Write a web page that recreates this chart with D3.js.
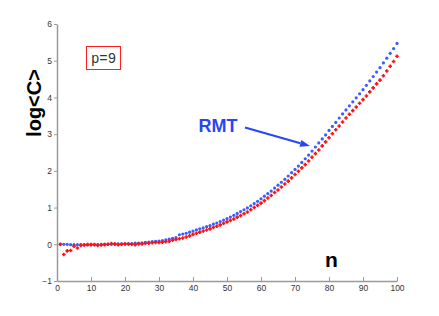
<!DOCTYPE html>
<html><head><meta charset="utf-8">
<script src="https://cdn.jsdelivr.net/npm/d3@7"></script>
<style>body{margin:0;background:#fff}svg{display:block}</style>
</head><body>
<svg id="c" width="439" height="316"></svg>
<script>
const nValues = d3.range(1, 101);
const rmtValues = [
 0,0,0,-0.01,-0.01,-0.01,-0.01,-0.01,-0.01,-0.01,
 -0.01,-0.01,0,0,0,0,0,0.01,0.01,0.01,
 0.02,0.02,0.03,0.03,0.04,0.05,0.06,0.07,0.08,0.09,
 0.10,0.12,0.14,0.16,0.18,0.26,0.28,0.30,0.33,0.36,
 0.39,0.42,0.45,0.48,0.51,0.55,0.58,0.62,0.66,0.70,
 0.74,0.79,0.84,0.89,0.94,0.99,1.05,1.11,1.17,1.24,
 1.31,1.38,1.45,1.53,1.61,1.69,1.77,1.86,1.95,2.04,
 2.13,2.23,2.33,2.43,2.54,2.65,2.76,2.87,2.98,3.10,
 3.21,3.32,3.44,3.55,3.66,3.77,3.88,3.99,4.10,4.21,
 4.33,4.45,4.57,4.69,4.81,4.94,5.07,5.20,5.33,5.47];
const dataValues = [
 0,-0.28,-0.18,-0.17,-0.05,-0.10,-0.03,-0.02,-0.01,-0.01,
 -0.01,-0.03,-0.02,-0.01,0.0,0.02,0.01,-0.01,0.0,0.01,
 0.0,0.0,-0.01,0.01,0.01,0.02,0.03,0.04,0.05,0.05,
 0.06,0.07,0.08,0.11,0.13,0.15,0.17,0.20,0.23,0.27,
 0.30,0.33,0.36,0.39,0.42,0.46,0.49,0.53,0.57,0.61,
 0.65,0.69,0.74,0.78,0.83,0.88,0.94,1.00,1.06,1.12,
 1.19,1.26,1.33,1.41,1.48,1.56,1.64,1.72,1.81,1.90,
 1.99,2.08,2.17,2.27,2.37,2.47,2.57,2.68,2.79,2.90,
 3.01,3.12,3.22,3.33,3.44,3.54,3.64,3.74,3.84,3.94,
 4.04,4.15,4.26,4.37,4.47,4.59,4.72,4.85,4.98,5.12];
const xTicks = [0,10,20,30,40,50,60,70,80,90,100];
const yTicks = [-1,0,1,2,3,4,5,6];
const annotation = "p=9";
const rmtLabel = "RMT";

const svg = d3.select("#c");
const x = d3.scaleLinear().domain([0,100]).range([57,397]);
const y = d3.scaleLinear().domain([-1,6]).range([281,24]);
const axisColor = "#9a9a9a";

const gx = svg.append("g").attr("transform","translate(0,281)")
  .call(d3.axisBottom(x).tickValues(xTicks).tickFormat(d3.format("d")).tickSizeInner(-4).tickSizeOuter(0).tickPadding(4));
const gy = svg.append("g").attr("transform","translate(57,0)")
  .call(d3.axisLeft(y).tickValues(yTicks).tickFormat(d3.format("d")).tickSizeInner(3).tickSizeOuter(0).tickPadding(2));
[gx,gy].forEach(g=>{
  g.select(".domain").attr("stroke",axisColor).attr("stroke-width",1.5);
  g.selectAll(".tick line").attr("stroke",axisColor);
  g.selectAll(".tick text").attr("fill","#333").attr("font-family","Liberation Sans, Arial, sans-serif").attr("font-size","8.5px");
});

// RMT (blue dots)
svg.append("g").selectAll("circle").data(nValues).join("circle")
  .attr("cx",(d,i)=>x(d)).attr("cy",(d,i)=>y(rmtValues[i]))
  .attr("r",1.6).attr("fill","#3b5cff");
// data (red plus markers)
const red = svg.append("g");
red.selectAll("path").data(nValues).join("path")
  .attr("d",(d,i)=>{const cx=x(d), cy=y(dataValues[i]); return `M${cx-1.8},${cy}H${cx+1.8}M${cx},${cy-1.8}V${cy+1.8}`;})
  .attr("stroke","#ff1010").attr("stroke-width",1.6).attr("fill","none");

// labels
svg.append("text").attr("transform","translate(41,103) rotate(-90)")
  .attr("text-anchor","middle").attr("font-family","Liberation Sans, Arial, sans-serif")
  .attr("font-weight","bold").attr("font-size","20px").text("log<C>");
svg.append("text").attr("x",331.5).attr("y",267).attr("text-anchor","middle")
  .attr("font-family","Liberation Sans, Arial, sans-serif").attr("font-weight","bold")
  .attr("font-size","21px").text("n");

// p=9 box
svg.append("rect").attr("x",86.5).attr("y",46.5).attr("width",34).attr("height",23)
  .attr("fill","none").attr("stroke","#ff2020").attr("stroke-width",1);
svg.append("text").attr("x",103.5).attr("y",62.5).attr("text-anchor","middle")
  .attr("font-family","Liberation Mono, Courier New, monospace").attr("font-size","14px")
  .attr("fill","#333").text(annotation);

// RMT label + arrow
svg.append("text").attr("x",218).attr("y",132).attr("text-anchor","middle")
  .attr("font-family","Liberation Sans, Arial, sans-serif").attr("font-weight","bold")
  .attr("font-size","18px").attr("fill","#2a45f5").text(rmtLabel);
const ax0=245, ay0=127.5, ax1=310, ay1=146;
const ang=Math.atan2(ay1-ay0, ax1-ax0);
const hl=10, hw=3.5;
const bx=ax1-hl*Math.cos(ang), by=ay1-hl*Math.sin(ang);
svg.append("line").attr("x1",ax0).attr("y1",ay0).attr("x2",bx).attr("y2",by)
  .attr("stroke","#2a45f5").attr("stroke-width",2);
svg.append("path").attr("d",`M${ax1},${ay1}L${bx-hw*Math.sin(ang)},${by+hw*Math.cos(ang)}L${bx+hw*Math.sin(ang)},${by-hw*Math.cos(ang)}Z`)
  .attr("fill","#2a45f5");
</script>
</body></html>
